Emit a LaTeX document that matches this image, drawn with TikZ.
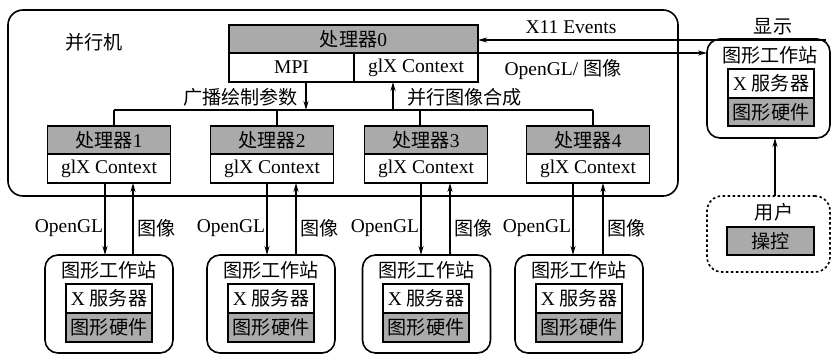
\documentclass[tikz,border=0pt]{standalone}
\usepackage{fontspec}
\setmainfont{Liberation Serif}
\newfontfamily\cjk[Scale=0.98]{Noto Sans CJK SC}
\usetikzlibrary{arrows.meta}
\definecolor{boxgray}{RGB}{170,170,170}
\begin{document}
\begin{tikzpicture}[x=1pt,y=-1pt,
  every node/.style={font=\fontsize{19.5}{22}\selectfont, inner sep=0pt, outer sep=0pt},
  hdr/.style={draw, line width=1.5pt, fill=boxgray, minimum width=#1, minimum height=28pt},
  bod/.style={draw, line width=1.5pt, fill=white, minimum width=#1, minimum height=29pt},
  wsbox/.style={draw, line width=1.6pt, rounded corners=13pt, minimum width=128pt, minimum height=98pt},
  arr/.style={line width=1.3pt, -{Stealth[length=9pt,width=5pt]}},
  ln/.style={line width=1.3pt}
]
\useasboundingbox (0,0) rectangle (832,355);

% parallel machine
\node[draw, line width=1.6pt, rounded corners=15pt, minimum width=670pt, minimum height=186pt] (pm) at (343,103) {};
\node (pmlbl) at (94,42) {\cjk 并行机};

% processor 0
\node[hdr=249pt] (p0h) at (353.5,39) {{\cjk 处理器}0};
\node[bod=125pt] (mpi) at (291.5,67.5) {MPI};
\node[bod=124pt] (p0g) at (416,67.5) {glX Context};

% processors 1-4
\foreach \i/\cx in {1/109, 2/272, 3/426, 4/588}{
  \node[hdr=123pt] (p\i h) at (\cx,140) {{\cjk 处理器}\i};
  \node[bod=123pt] (p\i g) at (\cx,168.5) {glX Context};
}

% bus
\coordinate (b1) at (114,110);
\coordinate (b2) at (277,110);
\coordinate (b3) at (420,110);
\coordinate (b4) at (593,110);
\coordinate (bd) at (306,110);
\coordinate (bu) at (393,110);
\draw[ln] (b1) -- (b4);
\foreach \i in {1,2,3,4}{ \draw[ln] (b\i) -- (p\i h.north -| b\i); }
\draw[arr] (mpi.south -| bd) -- (bd);
\draw[arr] (bu) -- (p0g.south -| bu);
\node[anchor=east] (bcast) at (298,97) {\cjk 广播绘制参数};
\node[anchor=west] (comp) at (407,97) {\cjk 并行图像合成};

% bottom workstations
\foreach \i/\wx/\ix/\dn/\up in {1/109/109/105/133, 2/271/271/267/296, 3/426.5/426/421/450, 4/579/579/573/603}{
  \node[wsbox] (w\i) at (\wx,304) {};
  \node (w\i t) at (\wx,270) {\cjk 图形工作站};
  \node[bod=86pt] (w\i x) at (\ix,298.5) {X {\cjk 服务器}};
  \node[hdr=86pt, minimum height=29pt] (w\i g) at (\ix,327.5) {\cjk 图形硬件};
  \coordinate (d\i) at (\dn,0);
  \coordinate (u\i) at (\up,0);
  \draw[arr] (p\i g.south -| d\i) -- (w\i.north -| d\i);
  \draw[arr] (w\i.north -| u\i) -- (p\i g.south -| u\i);
  \node[anchor=east] (og\i) at ([xshift=-2pt]d\i |- 0,228) {OpenGL};
  \node[anchor=west] (im\i) at ([xshift=4pt]u\i |- 0,228) {\cjk 图像};
}

% display workstation
\node[draw, line width=1.6pt, rounded corners=13pt, minimum width=123pt, minimum height=99pt] (disp) at (768.5,88.5) {};
\node (dispt) at (770,55) {\cjk 图形工作站};
\node[bod=86pt] (dx) at (771,83.5) {X {\cjk 服务器}};
\node[hdr=86pt, minimum height=28pt] (dg) at (771,112) {\cjk 图形硬件};
\node (show) at (773,27) {\cjk 显示};

% X11 events and OpenGL/image
\coordinate (xe) at (826,40);
\draw[arr] (xe) -- (xe -| p0h.east);
\node (x11) at (571,27) {X11 Events};
\draw[arr] (p0h.east |- 0,53) -- (disp.west |- 0,53);
\node (oglim) at (563,70) {OpenGL/ {\cjk 图像}};

% user
\node[draw, line width=1.6pt, dash pattern=on 2.5pt off 2.5pt, rounded corners=15pt, minimum width=123pt, minimum height=76pt] (user) at (768.5,234) {};
\node (usert) at (774,212) {\cjk 用户};
\node[hdr=87pt] (ctl) at (770.5,241) {\cjk 操控};
\coordinate (uc) at (775,0);
\draw[arr] (user.north -| uc) -- (disp.south -| uc);
\end{tikzpicture}
\end{document}
